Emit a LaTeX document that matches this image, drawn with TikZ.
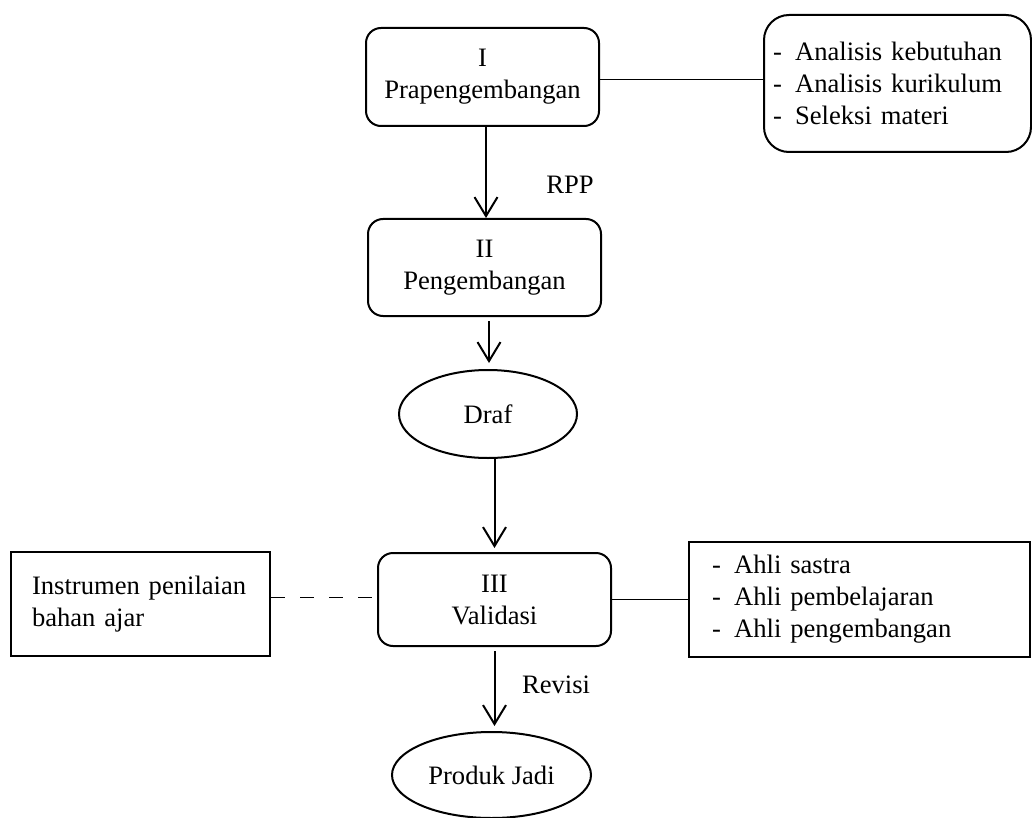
\documentclass[tikz,border=0pt]{standalone}
\usepackage{fontspec}
\setmainfont{Liberation Serif}
\usetikzlibrary{shapes.geometric,arrows.meta}
\begin{document}
\begin{tikzpicture}[x=1pt,y=-1pt,
 every node/.style={font=\fontsize{26.6}{32}\selectfont},
 rbox/.style={draw,line width=2pt,rounded corners=15pt,align=center,inner sep=0pt},
 sbox/.style={draw,line width=2pt,align=left,inner ysep=0pt},
 oval/.style={draw,line width=2pt,ellipse,inner sep=0pt},
 arr/.style={line width=2pt,-{Straight Barb[length=19pt,width=23pt,line width=2pt]}},
 link/.style={line width=1pt}]
\useasboundingbox (0,0) rectangle (1032,818);
\node[rbox,minimum width=233pt,minimum height=98pt] (b1) at (482.5,77) {I\\Prapengembangan};
\node[sbox,rounded corners=25pt,minimum height=137pt,text width=249pt,inner xsep=9pt,anchor=west] (tr) at (763,83.5) {-\, Analisis kebutuhan\\-\, Analisis kurikulum\\-\, Seleksi materi};
\node[rbox,minimum width=233pt,minimum height=97pt] (b2) at (484.5,267.5) {II\\Pengembangan};
\node[oval,minimum width=178pt,minimum height=88pt] (d) at (488,414) {Draf};
\node[rbox,minimum width=233pt,minimum height=93pt] (b3) at (494.5,599.5) {III\\Validasi};
\node[sbox,minimum width=259pt,minimum height=104pt,text width=217pt,inner xsep=21pt] (lb) at (140.5,604) {Instrumen penilaian\\bahan ajar};
\node[sbox,minimum width=341pt,minimum height=115pt,text width=295pt,inner xsep=23pt] (rb) at (859.5,599.5) {-\, Ahli sastra\\-\, Ahli pembelajaran\\-\, Ahli pengembangan};
\node[oval,minimum width=199pt,minimum height=86pt] (pj) at (491.5,775) {Produk Jadi};
\node (rpp) at (570,185) {RPP};
\node (rev) at (556,685) {Revisi};
\draw[link] ([yshift=-3pt]b1.east) -- ([yshift=-3pt]b1.east -| tr.west);
\draw[arr] ([xshift=3.5pt]b1.south) -- ([xshift=3.5pt]b1.south |- b2.north);
\draw[arr,shorten >=6pt] ([xshift=4.5pt,yshift=-4pt]b2.south) -- ([xshift=4.5pt]b2.south |- d.north);
\draw[arr,shorten >=4pt] (d.south -| b3.north) -- (b3.north);
\draw[arr,shorten >=5pt] ([yshift=-4pt]b3.south) -- (b3.south |- pj.north);
\draw[link,dash pattern=on 14pt off 15pt] ([yshift=7pt]lb.east) -- ([yshift=7pt]lb.east -| b3.west);
\draw[link] (b3.east) -- (b3.east -| rb.west);
\end{tikzpicture}
\end{document}
